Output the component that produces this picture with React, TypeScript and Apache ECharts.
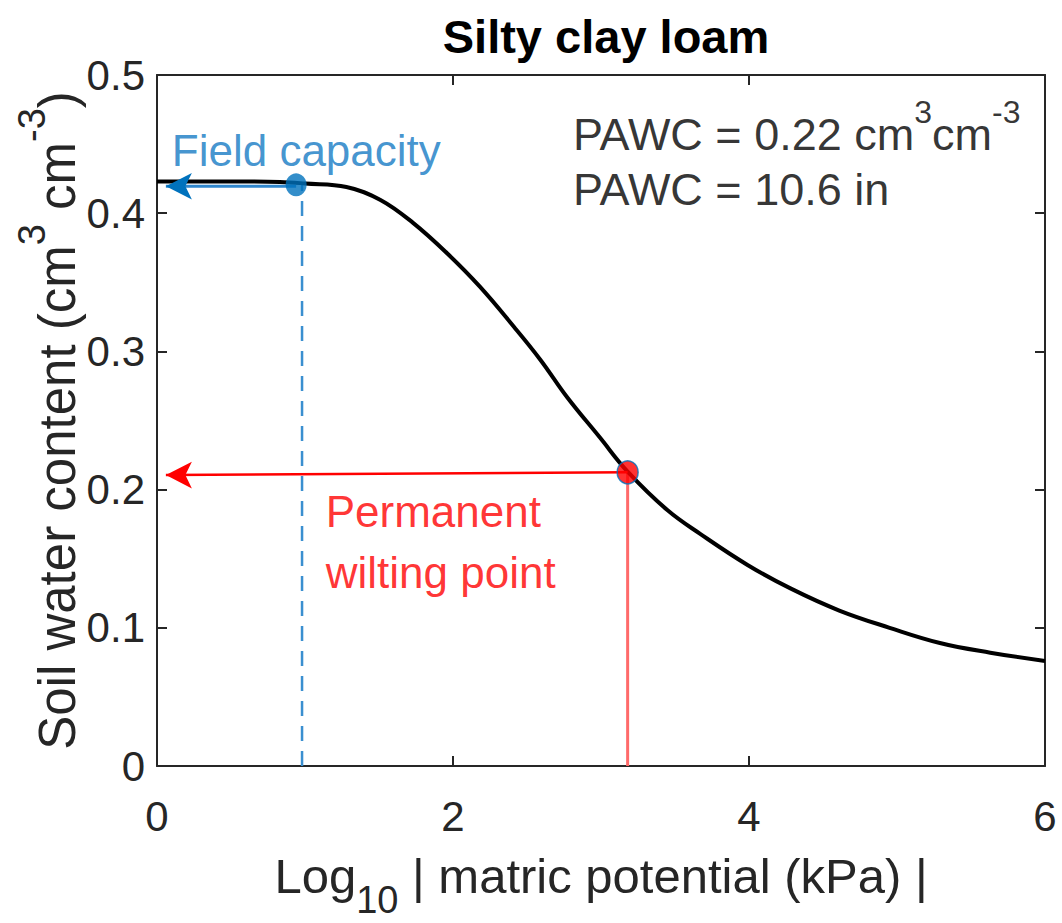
import React, { useEffect, useRef } from "react";
import * as echarts from "echarts";

const curveX = [0, 0.5, 0.83, 1.0, 1.28, 1.51, 1.73, 1.96, 2.18, 2.41, 2.59, 2.77, 2.99, 3.18, 3.45, 3.67, 3.99, 4.28, 4.61, 4.95, 5.29, 5.63, 6.0];
const curveY = [0.423, 0.423, 0.4226, 0.4215, 0.419, 0.4096, 0.393, 0.371, 0.347, 0.318, 0.294, 0.267, 0.238, 0.213, 0.185, 0.168, 0.1455, 0.1285, 0.1125, 0.1, 0.089, 0.082, 0.076];

const fieldCapacity = [0.94, 0.4205];
const fcLineX = 0.98;
const wiltingPoint = [3.18, 0.2125];
const fcArrowY = 0.4195;
const pwpArrowY = [0.2125, 0.2105];

const xTickInterval = 2;
const yTickInterval = 0.1;

const FONT = "Liberation Sans, Arial, Helvetica, sans-serif";
const BLUE = "#0072BD";
const BLUE_TEXT = "#1479c3";
const RED = "#ff0000";
const AXIS = "#262626";

export default function App() {
  const ref = useRef<HTMLDivElement>(null);
  useEffect(() => {
    document.body.style.margin = "0";
    const chart = echarts.init(ref.current!, null, { renderer: "svg" });
    const curve = curveX.map((x, i) => [x, curveY[i]]);
    const nameBase = { fontSize: 51, fontFamily: FONT, color: AXIS, lineHeight: 58, verticalAlign: "bottom" };
    const nameSup = { fontSize: 38, fontFamily: FONT, color: AXIS, lineHeight: 38, padding: [0, 0, 32, 0], verticalAlign: "bottom" };
    const nameBaseT = { fontSize: 49, fontFamily: FONT, color: AXIS, lineHeight: 56, verticalAlign: "top" };
    const nameSub = { fontSize: 38, fontFamily: FONT, color: AXIS, lineHeight: 38, padding: [30, 0, 0, 0], verticalAlign: "top" };
    const pawcBase = { fontSize: 45, fontFamily: FONT, color: "#000", lineHeight: 50, verticalAlign: "bottom" };
    const pawcSup = { fontSize: 32, fontFamily: FONT, color: "#000", lineHeight: 32, padding: [0, 0, 29, 0], verticalAlign: "bottom" };

    const axisCommon = {
      min: 0,
      nameMoveOverlap: false,
      axisLine: { show: true, onZero: false, lineStyle: { color: AXIS, width: 2 } },
      axisTick: { show: true, inside: true, length: 10, lineStyle: { color: AXIS, width: 2 } },
      splitLine: { show: false },
    };

    const textSeries = (x: number, y: number, text: string, rich: any) => ({
      type: "scatter",
      data: [[x, y]],
      symbolSize: 0,
      silent: true,
      z: 10,
      label: { show: true, position: "right", distance: 0, formatter: text, rich },
    });

    chart.setOption({
      animation: false,
      backgroundColor: "#ffffff",
      title: {
        text: "Silty clay loam",
        left: 601,
        textAlign: "center",
        top: 8,
        textStyle: { fontSize: 47, fontWeight: "bold", fontFamily: FONT, color: "#000" },
      },
      grid: { left: 157, right: 17, top: 75, bottom: 157, containLabel: false, outerBoundsMode: "none" },
      xAxis: [
        {
          ...axisCommon,
          type: "value",
          max: 6,
          interval: xTickInterval,
          position: "bottom",
          axisLabel: { fontSize: 42, fontFamily: FONT, color: AXIS, margin: 29 },
          name: "{b|Log}{s|10}{b| | matric potential (kPa) |}",
          nameLocation: "middle",
          nameGap: 85,
          nameTextStyle: { rich: { b: nameBaseT, s: nameSub } },
        },
        {
          ...axisCommon,
          type: "value",
          max: 6,
          interval: xTickInterval,
          position: "top",
          axisLabel: { show: false },
        },
      ],
      yAxis: [
        {
          ...axisCommon,
          type: "value",
          max: 0.5,
          interval: yTickInterval,
          position: "left",
          axisLabel: { fontSize: 42, fontFamily: FONT, color: AXIS, margin: 12 },
          name: "{b|Soil water content (cm}{s|3}{b| cm}{s|-3}{b|)}",
          nameLocation: "middle",
          nameRotate: 90,
          nameGap: 74,
          nameTextStyle: { rich: { b: nameBase, s: nameSup } },
        },
        {
          ...axisCommon,
          type: "value",
          max: 0.5,
          interval: yTickInterval,
          position: "right",
          axisLabel: { show: false },
        },
      ],
      series: [
        {
          type: "line",
          data: curve,
          smooth: 0.4,
          showSymbol: false,
          lineStyle: { color: "#000", width: 4 },
          z: 3,
        },
        {
          type: "line",
          data: [[fcLineX, 0], [fcLineX, fieldCapacity[1]]],
          showSymbol: false,
          lineStyle: { color: "#3a8fd0", width: 2.5, type: [15, 10] },
          z: 2,
        },
        {
          type: "line",
          data: [[wiltingPoint[0], 0], [wiltingPoint[0], wiltingPoint[1]]],
          showSymbol: false,
          lineStyle: { color: "#ff6a6a", width: 3 },
          z: 2,
        },
        {
          type: "line",
          data: [
            { value: [fieldCapacity[0], fcArrowY], symbol: "none" },
            { value: [0.06, fcArrowY], symbol: "arrow", symbolRotate: 90, symbolSize: [20, 26] },
          ],
          showSymbol: true,
          clip: false,
          itemStyle: { color: BLUE },
          lineStyle: { color: "#2f86cc", width: 3 },
          z: 4,
        },
        {
          type: "line",
          data: [
            { value: [wiltingPoint[0], pwpArrowY[0]], symbol: "none" },
            { value: [0.06, pwpArrowY[1]], symbol: "arrow", symbolRotate: 90, symbolSize: [20, 26] },
          ],
          showSymbol: true,
          clip: false,
          itemStyle: { color: RED },
          lineStyle: { color: RED, width: 2.5 },
          z: 4,
        },
        {
          type: "scatter",
          data: [fieldCapacity],
          symbolSize: [21, 23],
          itemStyle: { color: BLUE },
          z: 5,
        },
        {
          type: "scatter",
          data: [wiltingPoint],
          symbolSize: [21, 23],
          itemStyle: { color: RED, borderColor: BLUE, borderWidth: 1.5 },
          z: 5,
        },
        textSeries(0.1, 0.4457, "{t|Field capacity}", { t: { fontSize: 44, fontFamily: FONT, color: BLUE_TEXT } }),
        textSeries(1.14, 0.1845, "{t|Permanent}", { t: { fontSize: 44, fontFamily: FONT, color: RED } }),
        textSeries(1.14, 0.1397, "{t|wilting point}", { t: { fontSize: 44, fontFamily: FONT, color: RED } }),
        textSeries(2.81, 0.4588, "{b|PAWC = 0.22 cm}{s|3}{b|cm}{s|-3}", { b: pawcBase, s: pawcSup }),
        textSeries(2.81, 0.4168, "{b|PAWC = 10.6 in}", { b: { fontSize: 45, fontFamily: FONT, color: "#000" } }),
      ],
    });
    return () => chart.dispose();
  }, []);
  return <div ref={ref} style={{ width: 1062, height: 923 }} />;
}
